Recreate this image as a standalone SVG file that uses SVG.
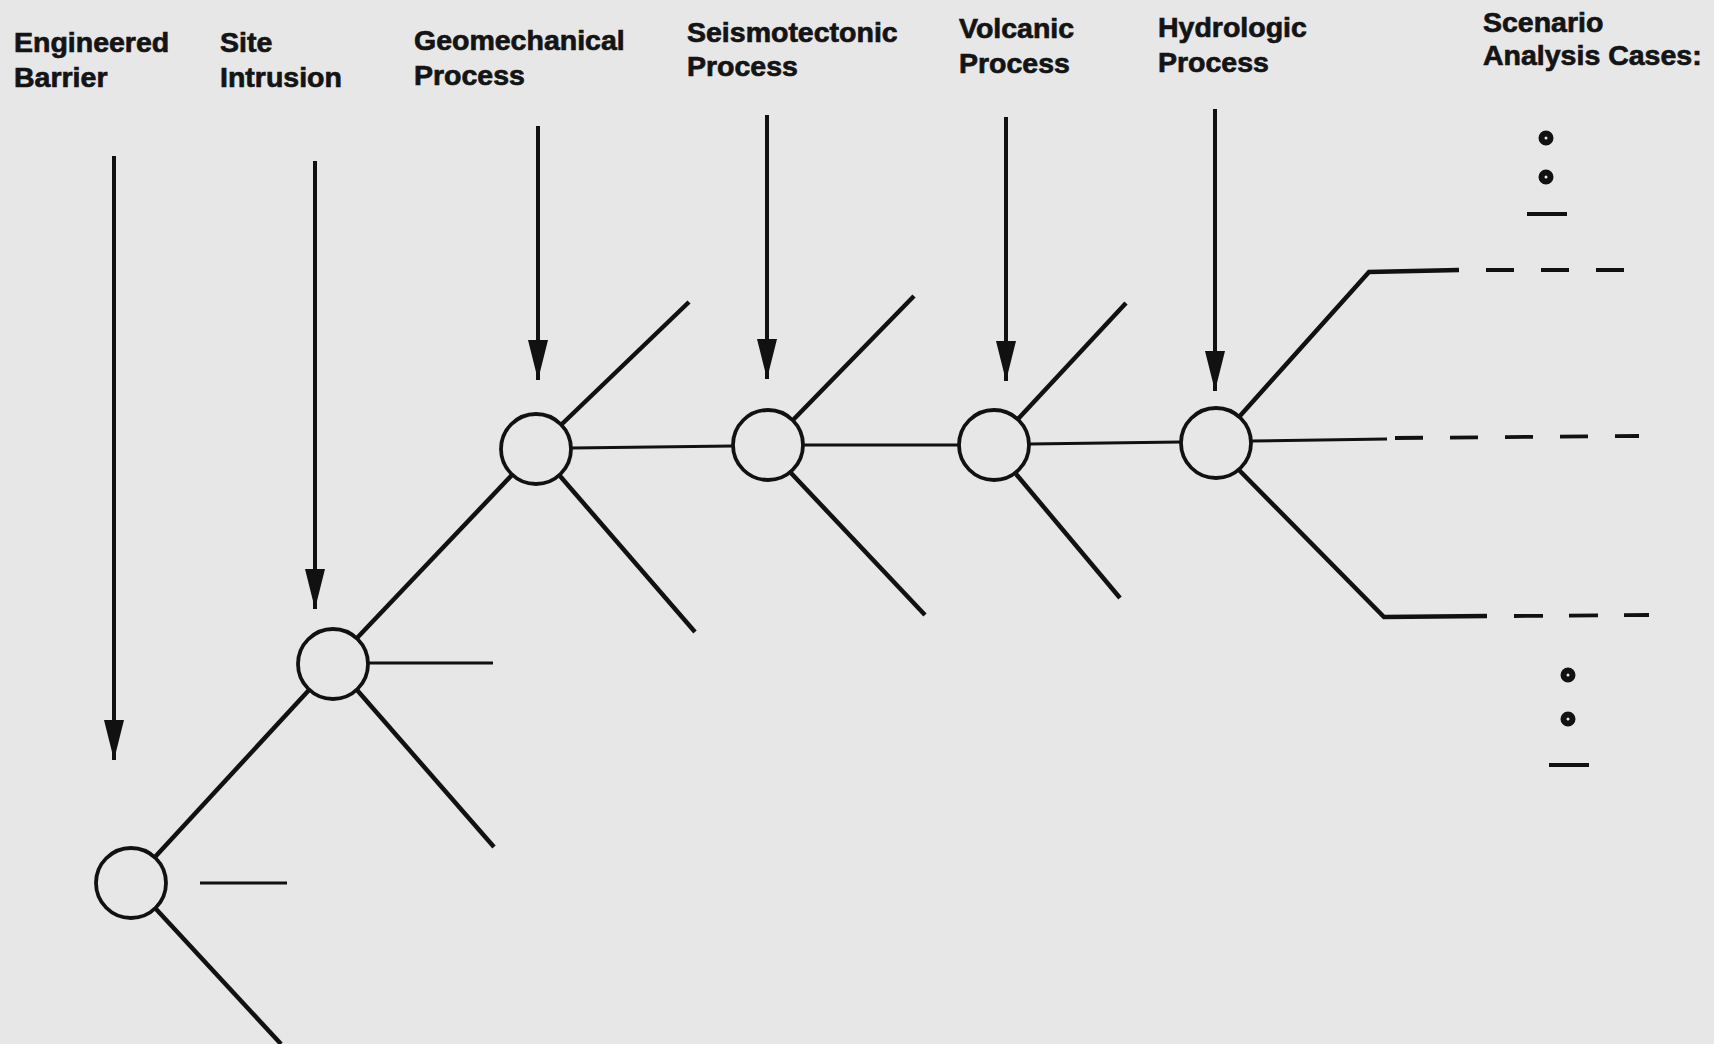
<svg xmlns="http://www.w3.org/2000/svg" width="1714" height="1044" viewBox="0 0 1714 1044">
  <defs>
    <marker id="arrowhead" viewBox="0 0 40 20" refX="40" refY="10" markerWidth="40" markerHeight="20" markerUnits="userSpaceOnUse" orient="auto">
      <path d="M0,0 L40,10 L0,20 Z" fill="#111"/>
    </marker>
    <style>
      .label { font-family: "Liberation Sans", Arial, sans-serif; font-weight: bold; font-size: 28.5px; fill: #141414; stroke: #141414; stroke-width: 0.7; }
      .node { fill: none; stroke: #111; stroke-width: 3.8; }
      .arrow { stroke: #111; stroke-width: 4; fill: none; marker-end: url(#arrowhead); }
      .branch { stroke: #111; stroke-width: 4.5; fill: none; stroke-linecap: butt; }
      .link { stroke: #111; stroke-width: 3; fill: none; }
      .dash { stroke: #111; stroke-width: 3.8; fill: none; }
      .dot { fill: none; stroke: #111; stroke-width: 6; }
      .rule { stroke: #111; stroke-width: 3.8; }
    </style>
  </defs>

  <rect x="0" y="0" width="1714" height="1044" fill="#e7e7e7"/>

  <!-- column headings -->
  <g id="labels">
    <g id="label-engineered-barrier">
      <text class="label" x="14" y="52">Engineered</text>
      <text class="label" x="14" y="87">Barrier</text>
    </g>
    <g id="label-site-intrusion">
      <text class="label" x="220" y="52">Site</text>
      <text class="label" x="220" y="87">Intrusion</text>
    </g>
    <g id="label-geomechanical">
      <text class="label" x="414" y="50">Geomechanical</text>
      <text class="label" x="414" y="85">Process</text>
    </g>
    <g id="label-seismotectonic">
      <text class="label" x="687" y="42">Seismotectonic</text>
      <text class="label" x="687" y="76">Process</text>
    </g>
    <g id="label-volcanic">
      <text class="label" x="959" y="38">Volcanic</text>
      <text class="label" x="959" y="73">Process</text>
    </g>
    <g id="label-hydrologic">
      <text class="label" x="1158" y="37">Hydrologic</text>
      <text class="label" x="1158" y="72">Process</text>
    </g>
    <g id="label-scenarios">
      <text class="label" x="1483" y="32">Scenario</text>
      <text class="label" x="1483" y="65">Analysis Cases:</text>
    </g>
  </g>

  <!-- event-tree connectors -->
  <g id="connectors">
    <!-- process arrows -->
    <line class="arrow" x1="114" y1="156" x2="114" y2="760"/>
    <line class="arrow" x1="315" y1="161" x2="315" y2="609"/>
    <line class="arrow" x1="538" y1="126" x2="538" y2="380"/>
    <line class="arrow" x1="767" y1="115" x2="767" y2="379"/>
    <line class="arrow" x1="1006" y1="117" x2="1006" y2="381"/>
    <line class="arrow" x1="1215" y1="109" x2="1215" y2="391"/>

    <!-- engineered barrier node branches -->
    <line class="branch" x1="155" y1="857" x2="309" y2="690"/>
    <line class="link" x1="200" y1="883" x2="287" y2="883"/>
    <line class="branch" x1="156" y1="909" x2="281" y2="1044"/>

    <!-- site intrusion node branches -->
    <line class="branch" x1="357" y1="638" x2="512" y2="475"/>
    <line class="link" x1="369" y1="663" x2="493" y2="663"/>
    <line class="branch" x1="357" y1="690" x2="494" y2="847"/>

    <!-- geomechanical node branches -->
    <line class="branch" x1="562" y1="424" x2="689" y2="302"/>
    <line class="link" x1="572" y1="448" x2="733" y2="446"/>
    <line class="branch" x1="560" y1="476" x2="695" y2="632"/>

    <!-- seismotectonic node branches -->
    <line class="branch" x1="793" y1="420" x2="914" y2="296"/>
    <line class="link" x1="803" y1="445" x2="959" y2="445"/>
    <line class="branch" x1="791" y1="473" x2="925" y2="615"/>

    <!-- volcanic node branches -->
    <line class="branch" x1="1018" y1="419" x2="1126" y2="303"/>
    <line class="link" x1="1029" y1="444" x2="1181" y2="442"/>
    <line class="branch" x1="1016" y1="474" x2="1120" y2="598"/>

    <!-- hydrologic node branches and scenario outcomes -->
    <polyline class="branch" points="1239,417 1369,272 1459,270"/>
    <line class="dash" x1="1486" y1="270" x2="1626" y2="270" stroke-dasharray="28 27"/>
    <line class="link" x1="1251" y1="441" x2="1387" y2="439"/>
    <line class="dash" x1="1395" y1="438" x2="1639" y2="436" stroke-dasharray="28 27"/>
    <polyline class="branch" points="1239,470 1384,617 1487,616"/>
    <line class="dash" x1="1514" y1="616" x2="1649" y2="615" stroke-dasharray="29 26"/>
  </g>

  <!-- decision nodes -->
  <g id="node-engineered-barrier"><circle class="node" cx="131" cy="883" r="35"/></g>
  <g id="node-site-intrusion"><circle class="node" cx="333" cy="664" r="35"/></g>
  <g id="node-geomechanical"><circle class="node" cx="536" cy="449" r="35"/></g>
  <g id="node-seismotectonic"><circle class="node" cx="768" cy="445" r="35"/></g>
  <g id="node-volcanic"><circle class="node" cx="994" cy="445" r="35"/></g>
  <g id="node-hydrologic"><circle class="node" cx="1216" cy="443" r="35"/></g>

  <!-- continuation marks for further cases -->
  <g id="more-cases-top">
    <circle class="dot" cx="1546" cy="138" r="4.5"/>
    <circle class="dot" cx="1546" cy="177" r="4.5"/>
    <line class="rule" x1="1527" y1="214" x2="1567" y2="214"/>
  </g>
  <g id="more-cases-bottom">
    <circle class="dot" cx="1568" cy="675" r="4.5"/>
    <circle class="dot" cx="1568" cy="719" r="4.5"/>
    <line class="rule" x1="1549" y1="765" x2="1589" y2="765"/>
  </g>
</svg>
